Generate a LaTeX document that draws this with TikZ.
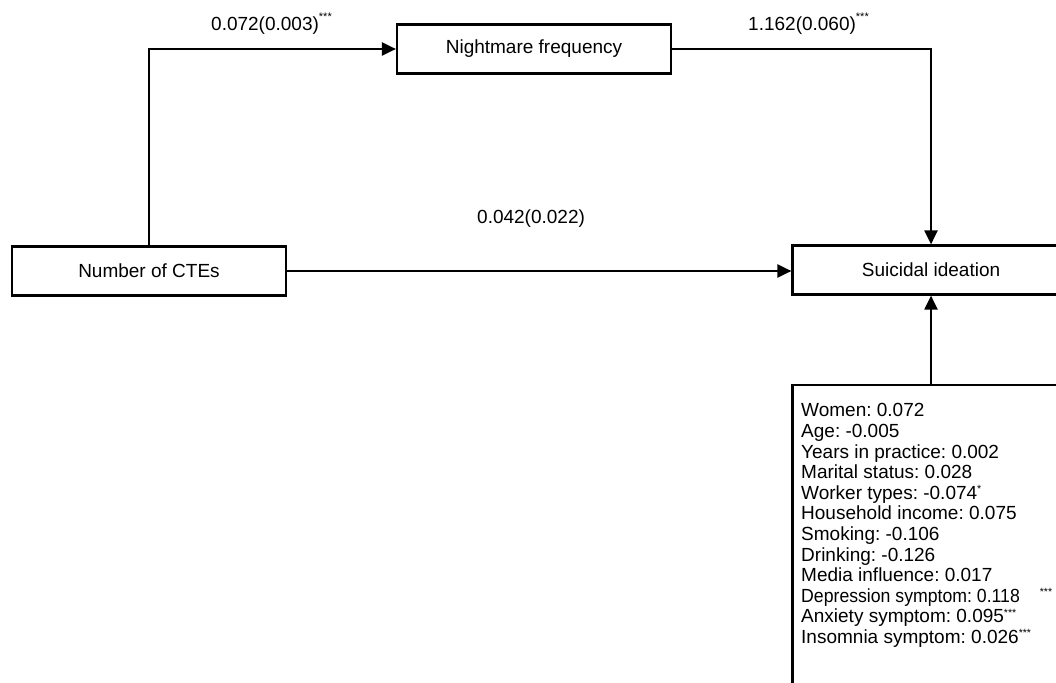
\documentclass[tikz,border=0pt]{standalone}
\usepackage{fontspec}
\setmainfont{Liberation Sans}
\usetikzlibrary{arrows.meta}
\newcommand{\sigstars}[1]{\smash{\raisebox{10.5pt}{\fontsize{11}{11}\selectfont #1}}}
\newcommand{\covstars}[1]{\smash{\raisebox{6.5pt}{\fontsize{10.5}{10.5}\selectfont #1}}}
\frenchspacing
\begin{document}
\begin{tikzpicture}[x=1pt,y=-1pt,
  box/.style={draw, line width=2.2pt, minimum width=274pt, minimum height=49pt, inner sep=0pt, font=\fontsize{19}{22}\selectfont},
  conn/.style={line width=2.2pt, -{Triangle[length=14pt,width=13pt]}},
  lab/.style={inner sep=0pt, anchor=base west, font=\fontsize{19}{22}\selectfont},
  covtxt/.style={inner sep=0pt, anchor=north west, align=left, font=\fontsize{19}{20.6}\selectfont}]
\useasboundingbox (0,0) rectangle (1056,682);
\clip (0,0) rectangle (1056,682);
\fill[white] (0,0) rectangle (1056,682);

\node[box] (cte) at (149,271) {Number of CTEs};
\node[box] (nf) at (534,49) {Nightmare frequency};
\node[box, minimum width=277pt] (si) at (931,270) {Suicidal ideation};
\node[draw, line width=2.2pt, minimum width=277pt, minimum height=340pt, anchor=north, inner sep=0pt] (cov) at (931,384) {};
\node[covtxt] (covtext) at (801,403.4) {Women: 0.072\\
Age: -0.005\\
Years in practice: 0.002\\
Marital status: 0.028\\
Worker types: -0.074\covstars{*}\\
Household income: 0.075\\
Smoking: -0.106\\
Drinking: -0.126\\
Media influence: 0.017\\
\scalebox{0.93}[1]{Depression symptom: 0.118}\hspace{20pt}\covstars{***}\\
Anxiety symptom: 0.095\covstars{***}\\
Insomnia symptom: 0.026\covstars{***}};

\draw[conn] (cte.north) |- (nf.west);
\draw[conn] (nf.east) -| (si.north);
\draw[conn] (cte.east) -- (cte.east -| si.west);
\draw[conn] (cov.north) -- (si.south);

\node[lab] (l1) at (211,31) {0.072(0.003)\sigstars{***}};
\node[lab] (l2) at (748,31) {1.162(0.060)\sigstars{***}};
\node[lab] (l3) at (477,223) {0.042(0.022)};
\end{tikzpicture}
\end{document}
